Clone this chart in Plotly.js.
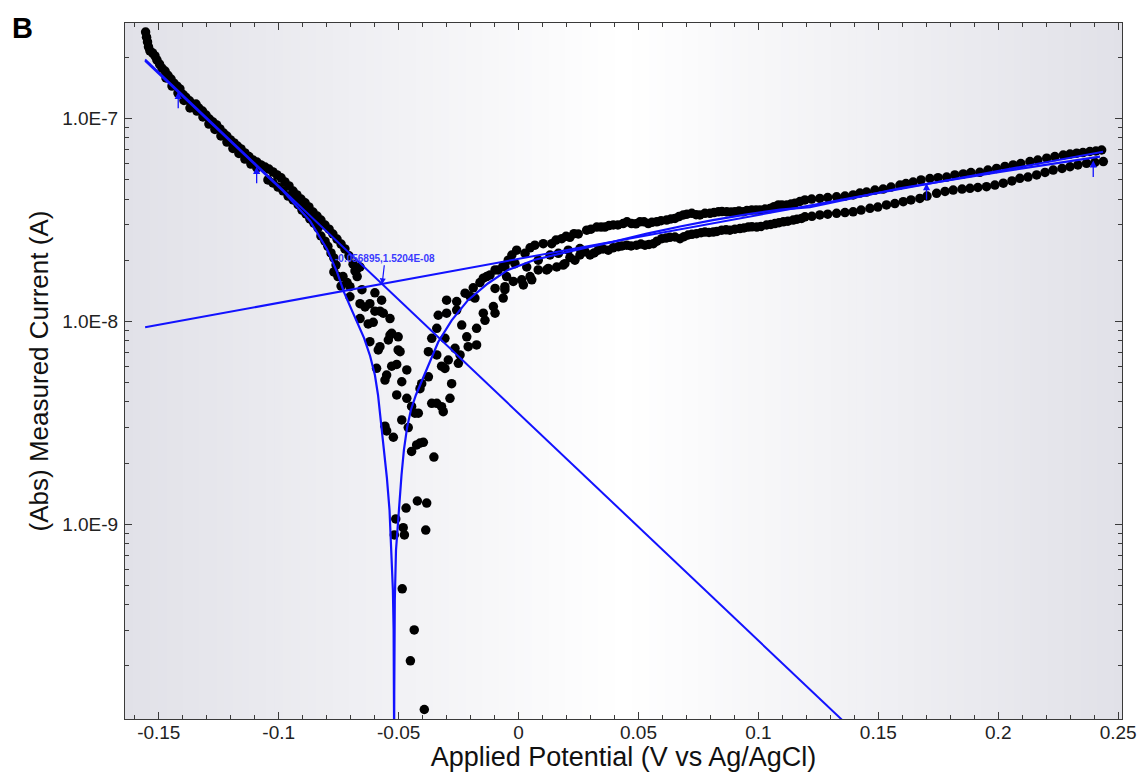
<!DOCTYPE html>
<html><head><meta charset="utf-8">
<script src="https://cdn.plot.ly/plotly-3.0.1.min.js"></script>
<style>html,body{margin:0;padding:0;background:#fff}#chart{width:1142px;height:772px}</style>
</head><body><div id="chart"></div>
<script>
// ---------- data (V vs Ag/AgCl, A) ----------
const cathodicBandV = [-0.1555,-0.1551,-0.1547,-0.1543,-0.1537,-0.1526,-0.1516,-0.1508,-0.1497,-0.1487,-0.1474,-0.1462,-0.1449,-0.1437,-0.1424,-0.1412,-0.1399,-0.1387,-0.1372,-0.1360,-0.1345,-0.1333,-0.1318,-0.1303,-0.1289,-0.1274,-0.1259,-0.1245,-0.1230,-0.1216,-0.1201,-0.1186,-0.1172,-0.1157,-0.1141,-0.1124,-0.1107,-0.1091,-0.1074,-0.1057,-0.1041,-0.1024,-0.1007,-0.0990,-0.0974,-0.0957,-0.0940,-0.0924,-0.0907,-0.0890,-0.0874,-0.0857,-0.0840,-0.0824,-0.0807,-0.0790,-0.0774,-0.0757,-0.0740,-0.0724,-0.0707,-0.0690,-0.0673];
const cathodicBandI = [2.66e-7,2.51e-7,2.38e-7,2.25e-7,2.15e-7,2.10e-7,2.03e-7,1.94e-7,1.85e-7,1.77e-7,1.71e-7,1.63e-7,1.56e-7,1.49e-7,1.44e-7,1.395e-7,1.31e-7,1.27e-7,1.22e-7,1.16e-7,1.176e-7,1.124e-7,1.086e-7,1.038e-7,9.92e-8,9.59e-8,9.27e-8,8.86e-8,8.46e-8,8.18e-8,7.82e-8,7.56e-8,7.30e-8,7.06e-8,6.75e-8,6.48e-8,6.23e-8,6.09e-8,5.89e-8,5.75e-8,5.62e-8,5.44e-8,5.26e-8,5.09e-8,4.86e-8,4.64e-8,4.38e-8,4.19e-8,4.00e-8,3.83e-8,3.66e-8,3.45e-8,3.30e-8,3.15e-8,2.98e-8,2.84e-8,2.69e-8,2.54e-8,2.40e-8,2.27e-8,2.10e-8,1.91e-8,1.81e-8];

const cathodicBand2V = [-0.1470,-0.1445,-0.1420,-0.1395,-0.1370,-0.1341,-0.1316,-0.1291,-0.1266,-0.1241,-0.1216,-0.1191,-0.1166,-0.1141,-0.1116,-0.1091];
const cathodicBand2I = [1.58e-7,1.442e-7,1.332e-7,1.224e-7,1.124e-7,1.086e-7,1.015e-7,9.37e-8,8.81e-8,8.18e-8,7.64e-8,7.10e-8,6.71e-8,6.30e-8,5.95e-8,5.69e-8];

const cathodicLowerV = [-0.1045,-0.1024,-0.1003,-0.0982,-0.0961,-0.0940,-0.0919,-0.0903,-0.0886,-0.0870,-0.0853,-0.0836,-0.0824,-0.0807,-0.0795,-0.0782,-0.0770,-0.0761,-0.0770,-0.0753,-0.0732,-0.0740,-0.0715,-0.0703,-0.0703,-0.0682,-0.0661,-0.0673,-0.0653];
const cathodicLowerI = [4.97e-8,4.80e-8,4.58e-8,4.39e-8,4.14e-8,3.96e-8,3.75e-8,3.53e-8,3.38e-8,3.19e-8,3.04e-8,2.88e-8,2.63e-8,2.48e-8,2.34e-8,2.17e-8,2.05e-8,1.89e-8,1.75e-8,1.66e-8,1.66e-8,1.49e-8,1.55e-8,1.48e-8,1.32e-8,1.77e-8,1.85e-8,1.66e-8,1.43e-8];

const dipV = [-0.0661,-0.0640,-0.0620,-0.0599,-0.0571,-0.0578,-0.0564,-0.0536,-0.0661,-0.0627,-0.0606,-0.0599,-0.0620,-0.0578,-0.0585,-0.0536,-0.0529,-0.0502,-0.0494,-0.0543,-0.0592,-0.0529,-0.0508,-0.0466,-0.0550,-0.0557,-0.0508,-0.0466,-0.0502,-0.0487,-0.0446,-0.0432,-0.0418,-0.0487,-0.0557,-0.0550,-0.0460,-0.0522,-0.0446,-0.0425,-0.0411,-0.0397,-0.0353,-0.0422,-0.0383,-0.0469,-0.0512,-0.0481,-0.0518,-0.0476,-0.0387,-0.0485,-0.0435,-0.0451,-0.0393];
const dipI = [1.22e-8,1.175e-8,1.22e-8,1.38e-8,1.27e-8,1.12e-8,1.095e-8,1.03e-8,1.03e-8,9.7e-9,9.88e-9,1.12e-8,7.93e-9,7.49e-9,7.22e-9,8.55e-9,8.72e-9,7.22e-9,7.08e-9,8.08e-9,5.86e-9,6.0e-9,6.12e-9,5.75e-9,5.43e-9,5.13e-9,4.33e-9,4.17e-9,8.38e-9,5.03e-9,3.80e-9,3.52e-9,3.52e-9,3.26e-9,3.04e-9,2.88e-9,2.99e-9,2.68e-9,2.28e-9,2.455e-9,2.51e-9,2.53e-9,2.14e-9,1.30e-9,1.27e-9,1.20e-9,1.06e-9,9.6e-10,8.85e-10,8.85e-10,9.35e-10,4.8e-10,3.01e-10,2.12e-10,1.22e-10];

const riseClusterV = [-0.0411,-0.0404,-0.0376,-0.0362,-0.0341,-0.0321,-0.0314,-0.0286,-0.0279,-0.0321,-0.0307,-0.0341,-0.0376,-0.0362,-0.0307,-0.0293,-0.0265,-0.0244,-0.0251,-0.0341,-0.0335,-0.0300,-0.0258,-0.0237,-0.0216,-0.0175,-0.0175,-0.0210,-0.0147,-0.0140,-0.0105,-0.0098,-0.0064,-0.0057];
const riseClusterI = [4.65e-9,4.92e-9,5.32e-9,3.94e-9,3.94e-9,3.79e-9,3.58e-9,4.17e-9,4.92e-9,6.0e-9,5.85e-9,6.82e-9,7.08e-9,8.24e-9,8.24e-9,6.44e-9,7.35e-9,6.82e-9,6.20e-9,9.22e-9,1.07e-8,1.095e-8,1.135e-8,9.57e-9,8.38e-9,9.22e-9,7.64e-9,7.49e-9,1.095e-8,1.01e-8,1.18e-8,1.095e-8,1.30e-8,1.43e-8];

const riseUpperV = [-0.0300,-0.0258,-0.0223,-0.0189,-0.0182,-0.0147,-0.0119,-0.0085,-0.0043,-0.0008,0.0027,0.0068,0.0103,0.0138,0.0180,0.0214,0.0249,-0.0203,-0.0161,-0.0065,-0.0028,0.0048,0.0156,0.0198,0.0231];
const riseUpperI = [1.27e-8,1.25e-8,1.375e-8,1.46e-8,1.30e-8,1.63e-8,1.69e-8,1.79e-8,2.00e-8,2.24e-8,2.16e-8,2.37e-8,2.41e-8,2.41e-8,2.55e-8,2.59e-8,2.69e-8,1.33e-8,1.55e-8,1.87e-8,2.12e-8,2.30e-8,2.51e-8,2.62e-8,2.70e-8];

const riseMiddleV = [-0.0098,-0.0057,-0.0022,0.0013,0.0048,0.0082,0.0124,0.0159,0.0193,0.0235,-0.0015,0.0034,0.0082,0.0131,0.0166,0.0207,0.0256,-0.0133,-0.0098,-0.0057,-0.0050,0.0020,0.0055,0.0117,0.0186,0.0214];
const riseMiddleI = [1.45e-8,1.48e-8,1.57e-8,1.60e-8,1.66e-8,1.79e-8,1.82e-8,1.85e-8,1.92e-8,2.00e-8,1.92e-8,1.85e-8,2.00e-8,2.12e-8,2.16e-8,2.24e-8,2.28e-8,1.66e-8,1.79e-8,1.85e-8,1.66e-8,1.51e-8,1.60e-8,1.79e-8,1.89e-8,2.06e-8];

const anodicUpperV = [0.0284,0.0302,0.0326,0.0344,0.0360,0.0377,0.0395,0.0414,0.0436,0.0452,0.0471,0.0489,0.0506,0.0523,0.0541,0.0556,0.0576,0.0594,0.0617,0.0635,0.0652,0.0669,0.0687,0.0702,0.0722,0.0740,0.0756,0.0777,0.0798,0.0815,0.0833,0.0848,0.0868,0.0886,0.0902,0.0919,0.0937,0.0952,0.0972,0.0990,0.1006,0.1027,0.1048,0.1065,0.1083,0.1098,0.1118,0.1136,0.1152,0.1173,0.1194,0.1222,0.1256,0.1289,0.1326,0.1361,0.1395,0.1423,0.1451,0.1486,0.1520,0.1553,0.1590,0.1615,0.1645,0.1678,0.1715,0.1749,0.1785,0.1819,0.1854,0.1886,0.1923,0.1957,0.1993,0.2028,0.2062,0.2094,0.2132,0.2165,0.2202,0.2236,0.2271,0.2299,0.2327,0.2353,0.2382,0.2407,0.2431];
const anodicUpperI = [2.81e-8,2.84e-8,2.91e-8,2.91e-8,2.91e-8,2.96e-8,2.98e-8,2.98e-8,3.03e-8,3.09e-8,3.03e-8,3.02e-8,3.09e-8,3.09e-8,3.03e-8,3.07e-8,3.09e-8,3.13e-8,3.15e-8,3.19e-8,3.21e-8,3.28e-8,3.34e-8,3.37e-8,3.40e-8,3.35e-8,3.34e-8,3.40e-8,3.40e-8,3.43e-8,3.46e-8,3.47e-8,3.46e-8,3.45e-8,3.46e-8,3.49e-8,3.46e-8,3.51e-8,3.53e-8,3.53e-8,3.53e-8,3.57e-8,3.59e-8,3.67e-8,3.74e-8,3.74e-8,3.74e-8,3.78e-8,3.81e-8,3.89e-8,3.96e-8,4.00e-8,4.03e-8,4.07e-8,4.10e-8,4.14e-8,4.19e-8,4.28e-8,4.33e-8,4.43e-8,4.48e-8,4.58e-8,4.69e-8,4.77e-8,4.85e-8,4.97e-8,5.05e-8,5.10e-8,5.13e-8,5.26e-8,5.32e-8,5.40e-8,5.42e-8,5.56e-8,5.66e-8,5.79e-8,5.89e-8,5.98e-8,6.12e-8,6.23e-8,6.36e-8,6.48e-8,6.59e-8,6.66e-8,6.73e-8,6.78e-8,6.86e-8,6.90e-8,6.98e-8];

const anodicLowerV = [0.0256,0.0277,0.0298,0.0315,0.0332,0.0352,0.0374,0.0394,0.0416,0.0431,0.0451,0.0469,0.0492,0.0510,0.0527,0.0544,0.0562,0.0577,0.0597,0.0615,0.0631,0.0652,0.0673,0.0690,0.0707,0.0723,0.0742,0.0761,0.0777,0.0794,0.0812,0.0827,0.0847,0.0865,0.0881,0.0902,0.0923,0.0940,0.0958,0.0973,0.0993,0.1011,0.1034,0.1052,0.1069,0.1086,0.1104,0.1123,0.1145,0.1161,0.1180,0.1194,0.1223,0.1256,0.1289,0.1326,0.1361,0.1395,0.1428,0.1465,0.1498,0.1534,0.1569,0.1604,0.1636,0.1673,0.1703,0.1743,0.1778,0.1812,0.1849,0.1882,0.1915,0.1951,0.1986,0.2021,0.2057,0.2090,0.2124,0.2160,0.2195,0.2229,0.2266,0.2299,0.2332,0.2368,0.2403,0.2438];
const anodicLowerI = [2.12e-8,2.20e-8,2.12e-8,2.17e-8,2.24e-8,2.27e-8,2.24e-8,2.30e-8,2.33e-8,2.35e-8,2.37e-8,2.35e-8,2.37e-8,2.40e-8,2.37e-8,2.39e-8,2.41e-8,2.48e-8,2.55e-8,2.57e-8,2.59e-8,2.60e-8,2.55e-8,2.61e-8,2.66e-8,2.68e-8,2.70e-8,2.73e-8,2.75e-8,2.74e-8,2.75e-8,2.77e-8,2.81e-8,2.82e-8,2.81e-8,2.84e-8,2.86e-8,2.88e-8,2.91e-8,2.92e-8,2.91e-8,2.93e-8,2.98e-8,3.00e-8,3.03e-8,3.06e-8,3.09e-8,3.11e-8,3.15e-8,3.18e-8,3.21e-8,3.27e-8,3.29e-8,3.34e-8,3.37e-8,3.40e-8,3.43e-8,3.46e-8,3.53e-8,3.60e-8,3.65e-8,3.74e-8,3.80e-8,3.88e-8,3.96e-8,4.03e-8,4.14e-8,4.27e-8,4.36e-8,4.43e-8,4.48e-8,4.52e-8,4.56e-8,4.60e-8,4.69e-8,4.79e-8,4.91e-8,5.06e-8,5.13e-8,5.26e-8,5.41e-8,5.56e-8,5.66e-8,5.77e-8,5.89e-8,6.00e-8,6.06e-8,6.12e-8];

// fitted curve (two branches meeting at the corrosion potential)
const fitCathodicV = [-0.1557,-0.1329,-0.1120,-0.0982,-0.0870,-0.0799,-0.0757,-0.0728,-0.0699,-0.0674,-0.0644,-0.0619,-0.0599,-0.0586,-0.0574,-0.0561,-0.0549,-0.0538,-0.0530,-0.0524,-0.0521,-0.0520,-0.0519];
const fitCathodicI = [1.92e-7,1.064e-7,6.23e-8,4.38e-8,3.13e-8,2.27e-8,1.75e-8,1.39e-8,1.16e-8,1.00e-8,8.26e-9,6.74e-9,5.43e-9,4.33e-9,3.26e-9,2.40e-9,1.69e-9,1.17e-9,7.45e-10,4.73e-10,3.01e-10,1.70e-10,9.66e-11];
const fitAnodicV = [-0.0519,-0.0517,-0.0516,-0.0511,-0.0503,-0.0497,-0.0488,-0.0478,-0.0465,-0.0449,-0.0428,-0.0407,-0.0377,-0.0335,-0.0279,-0.0211,-0.0128,-0.0044,0.0068,0.0181,0.0277,0.0394,0.0535,0.0673,0.0810,0.0952,0.1090,0.1215,0.1590,0.2007,0.2424];
const fitAnodicI = [1.08e-10,2.40e-10,4.22e-10,7.45e-10,1.048e-9,1.315e-9,1.746e-9,2.32e-9,2.98e-9,3.65e-9,4.33e-9,4.96e-9,6.02e-9,7.90e-9,1.01e-8,1.27e-8,1.534e-8,1.79e-8,2.01e-8,2.17e-8,2.30e-8,2.46e-8,2.70e-8,2.93e-8,3.15e-8,3.36e-8,3.55e-8,3.65e-8,4.52e-8,5.45e-8,6.47e-8];

// Tafel extrapolation lines
const tafelCathodicV = [-0.1557, 0.14];
const tafelCathodicI = [1.95e-7, 9.5e-11];
const tafelAnodicV = [-0.1557, 0.2437];
const tafelAnodicI = [9.33e-9, 6.84e-8];

// intersection label and fit-range markers
const ecorrV = -0.056895;
const icorrI = 1.5204e-8;
const ecorrLabel = "-0.056895,1.5204E-08";
const rangeMarkV = [-0.1419, -0.1092, 0.1701, 0.2396];
const rangeMarkI = [1.35e-7, 5.77e-8, 4.79e-8, 6.2e-8];

// axis ticks
const xTickVals = [-0.15, -0.1, -0.05, 0, 0.05, 0.1, 0.15, 0.2, 0.25];
const xTickText = ["-0.15", "-0.1", "-0.05", "0", "0.05", "0.1", "0.15", "0.2", "0.25"];
const yTickVals = [1e-9, 1e-8, 1e-7];
const yTickText = ["1.0E-9", "1.0E-8", "1.0E-7"];

// ---------- styling ----------
const FONT = "Liberation Sans, Arial, Helvetica, sans-serif";
const BLUE = "#1212ff";
const dot = {color: "#000", size: 9.5, line: {width: 0}};

function dots(x, y) { return {x: x, y: y, type: "scatter", mode: "markers", marker: dot, hoverinfo: "x+y"}; }
function line(x, y, w) { return {x: x, y: y, type: "scatter", mode: "lines", line: {color: BLUE, width: w}, hoverinfo: "skip"}; }

const traces = [
  dots(cathodicBandV, cathodicBandI),
  dots(cathodicBand2V, cathodicBand2I),
  dots(cathodicLowerV, cathodicLowerI),
  dots(dipV, dipI),
  dots(riseClusterV, riseClusterI),
  dots(riseUpperV, riseUpperI),
  dots(riseMiddleV, riseMiddleI),
  dots(anodicUpperV, anodicUpperI),
  dots(anodicLowerV, anodicLowerI),
  line(tafelCathodicV, tafelCathodicI, 2),
  line(tafelAnodicV, tafelAnodicI, 2),
  line(fitCathodicV, fitCathodicI, 2.2),
  line(fitAnodicV, fitAnodicI, 2.2)
];

// minor tick positions
const xMinor = [];
for (let k = -16; k <= 25; k++) { if (k % 5 !== 0) xMinor.push(k / 100); }
const yMinor = [];
for (let e = -10; e <= -7; e++) { for (let m = 2; m <= 9; m++) yMinor.push(m * Math.pow(10, e)); }

// horizontal grey-white-grey background gradient
const shapes = [];
const N = 120;
for (let i = 0; i < N; i++) {
  const c = (i + 0.5) / N;
  const t = Math.abs(c - 0.5) / 0.5;
  const r = Math.round(255 - 30 * t), b = Math.round(255 - 23 * t);
  shapes.push({type: "rect", xref: "paper", yref: "paper", x0: i / N, x1: (i + 1) / N + 0.001, y0: 0, y1: 1,
    fillcolor: `rgb(${r},${r},${b})`, line: {width: 0}, layer: "below"});
}

const annotations = [
  {xref: "paper", yref: "paper", x: -0.1155, y: 1.019, xanchor: "left", yanchor: "top", showarrow: false,
   text: "<b>B</b>", font: {family: FONT, size: 29, color: "#000"}},
  {x: ecorrV, y: Math.log10(icorrI), xref: "x", yref: "y", text: ecorrLabel, showarrow: true,
   ax: 3, ay: -26, arrowhead: 2, arrowsize: 1, arrowwidth: 1.2, arrowcolor: BLUE, standoff: 0,
   font: {family: FONT, size: 10, color: "#3a3aff", weight: "bold"}}
];
for (let i = 0; i < rangeMarkV.length; i++) {
  annotations.push({x: rangeMarkV[i], y: Math.log10(rangeMarkI[i]), xref: "x", yref: "y", text: "",
    showarrow: true, ax: 0, ay: 18, arrowhead: 2, arrowsize: 1.1, arrowwidth: 1.3, arrowcolor: BLUE, standoff: 0});
}

const axisCommon = {
  showgrid: false, zeroline: false, showline: true, linecolor: "#3a3a3a", linewidth: 1,
  mirror: "ticks", ticks: "inside", ticklen: 7, tickwidth: 1, tickcolor: "#3a3a3a",
  tickfont: {family: FONT, size: 19, color: "#222"}, automargin: false
};

const layout = {
  width: 1142, height: 772,
  margin: {l: 125, r: 20, t: 23, b: 53},
  paper_bgcolor: "#fff", plot_bgcolor: "#fff",
  showlegend: false,
  font: {family: FONT},
  xaxis: Object.assign({}, axisCommon, {
    range: [-0.16409, 0.25159], tickmode: "array", tickvals: xTickVals, ticktext: xTickText,
    ticklabelstandoff: -4,
    minor: {tickmode: "array", tickvals: xMinor, ticks: "inside", ticklen: 4, tickwidth: 1, tickcolor: "#3a3a3a"},
    title: {text: "Applied Potential (V vs Ag/AgCl)", font: {family: FONT, size: 27, color: "#111"}, standoff: 10}
  }),
  yaxis: Object.assign({}, axisCommon, {
    type: "log", range: [-9.9605, -6.5303], tickmode: "array", tickvals: yTickVals, ticktext: yTickText,
    ticklabelstandoff: 2,
    minor: {tickmode: "array", tickvals: yMinor, ticks: "inside", ticklen: 4, tickwidth: 1, tickcolor: "#3a3a3a"},
    title: {text: "(Abs) Measured Current (A)", font: {family: FONT, size: 26, color: "#111"}, standoff: 6}
  }),
  shapes: shapes,
  annotations: annotations
};

Plotly.newPlot("chart", traces, layout, {displayModeBar: false, staticPlot: true});
</script></body></html>
